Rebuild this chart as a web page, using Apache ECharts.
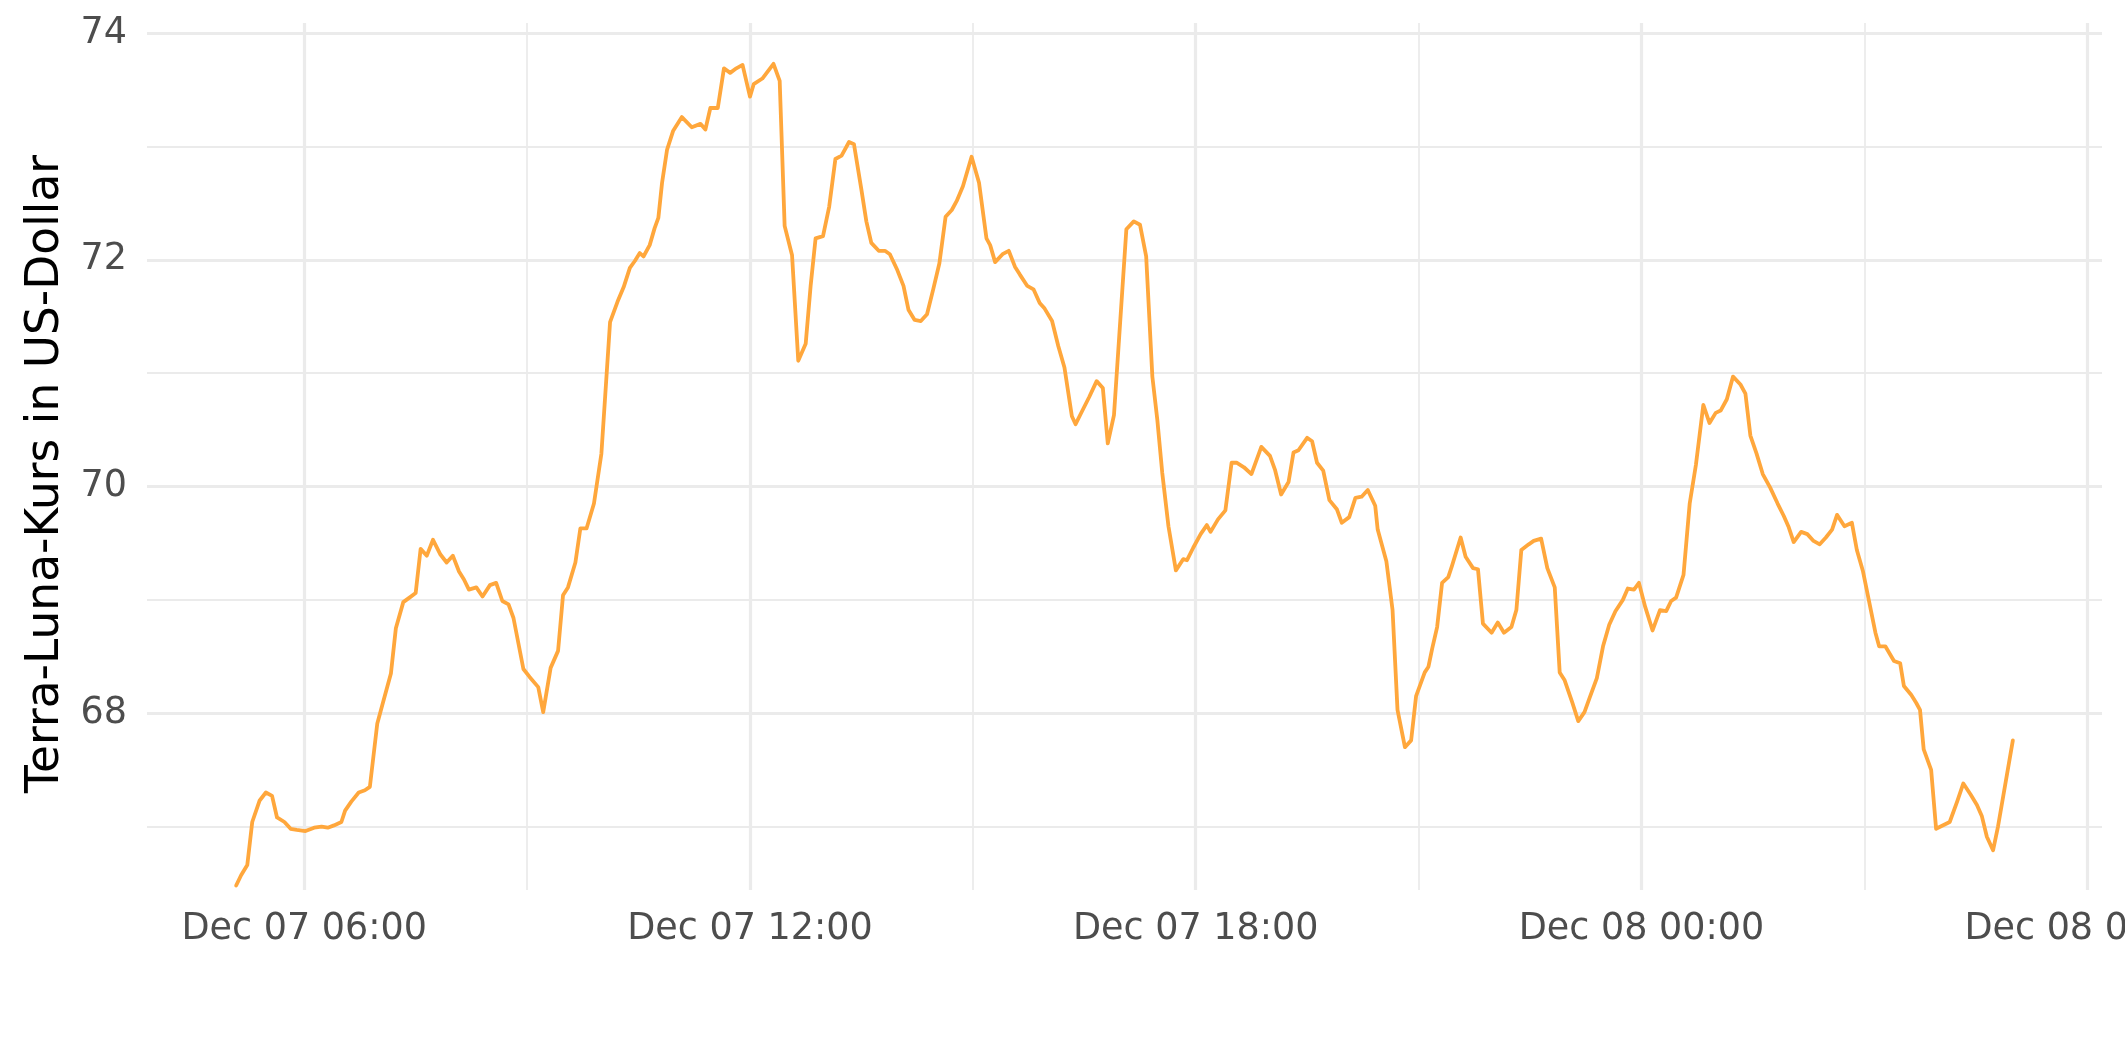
<!DOCTYPE html>
<html><head><meta charset="utf-8">
<script src="https://cdn.jsdelivr.net/npm/echarts@6/dist/echarts.min.js"></script>
<style>html,body{margin:0;padding:0;background:#fff}#c{width:2125px;height:1062px}</style>
</head><body><div id="c"></div>
<script>
const times = [
"2021-12-07 05:05","2021-12-07 05:09","2021-12-07 05:14","2021-12-07 05:18","2021-12-07 05:24","2021-12-07 05:29","2021-12-07 05:34","2021-12-07 05:38","2021-12-07 05:44","2021-12-07 05:49","2021-12-07 05:54",
"2021-12-07 06:01","2021-12-07 06:08","2021-12-07 06:14","2021-12-07 06:19","2021-12-07 06:24","2021-12-07 06:30","2021-12-07 06:33","2021-12-07 06:38","2021-12-07 06:44","2021-12-07 06:49","2021-12-07 06:53","2021-12-07 06:59",
"2021-12-07 07:03","2021-12-07 07:10","2021-12-07 07:14","2021-12-07 07:20","2021-12-07 07:25","2021-12-07 07:30","2021-12-07 07:34","2021-12-07 07:39","2021-12-07 07:44","2021-12-07 07:50","2021-12-07 07:55",
"2021-12-07 08:00","2021-12-07 08:05","2021-12-07 08:09","2021-12-07 08:13","2021-12-07 08:19","2021-12-07 08:24","2021-12-07 08:30","2021-12-07 08:35","2021-12-07 08:40","2021-12-07 08:45","2021-12-07 08:49","2021-12-07 08:57",
"2021-12-07 09:02","2021-12-07 09:09","2021-12-07 09:13","2021-12-07 09:19","2021-12-07 09:25","2021-12-07 09:29","2021-12-07 09:33","2021-12-07 09:39","2021-12-07 09:43","2021-12-07 09:48","2021-12-07 09:54",
"2021-12-07 10:00","2021-12-07 10:07","2021-12-07 10:13","2021-12-07 10:18","2021-12-07 10:23","2021-12-07 10:27","2021-12-07 10:31","2021-12-07 10:34","2021-12-07 10:39","2021-12-07 10:43","2021-12-07 10:46","2021-12-07 10:49","2021-12-07 10:53","2021-12-07 10:58",
"2021-12-07 11:05","2021-12-07 11:13","2021-12-07 11:20","2021-12-07 11:24","2021-12-07 11:28","2021-12-07 11:34","2021-12-07 11:39","2021-12-07 11:44","2021-12-07 11:49","2021-12-07 11:54",
"2021-12-07 12:00","2021-12-07 12:03","2021-12-07 12:10","2021-12-07 12:19","2021-12-07 12:24","2021-12-07 12:28","2021-12-07 12:34","2021-12-07 12:39","2021-12-07 12:45","2021-12-07 12:49","2021-12-07 12:53","2021-12-07 12:59",
"2021-12-07 13:04","2021-12-07 13:09","2021-12-07 13:14","2021-12-07 13:20","2021-12-07 13:24","2021-12-07 13:30","2021-12-07 13:34","2021-12-07 13:38","2021-12-07 13:44","2021-12-07 13:49","2021-12-07 13:53","2021-12-07 13:59",
"2021-12-07 14:04","2021-12-07 14:08","2021-12-07 14:13","2021-12-07 14:18","2021-12-07 14:23","2021-12-07 14:28","2021-12-07 14:33","2021-12-07 14:38","2021-12-07 14:43","2021-12-07 14:47","2021-12-07 14:52","2021-12-07 14:59",
"2021-12-07 15:05","2021-12-07 15:11","2021-12-07 15:14","2021-12-07 15:18","2021-12-07 15:24","2021-12-07 15:29","2021-12-07 15:34","2021-12-07 15:38","2021-12-07 15:44","2021-12-07 15:49","2021-12-07 15:54","2021-12-07 15:58",
"2021-12-07 16:04","2021-12-07 16:09","2021-12-07 16:14","2021-12-07 16:20","2021-12-07 16:23","2021-12-07 16:28","2021-12-07 16:34","2021-12-07 16:40","2021-12-07 16:45","2021-12-07 16:49","2021-12-07 16:54",
"2021-12-07 17:04","2021-12-07 17:10","2021-12-07 17:15","2021-12-07 17:20","2021-12-07 17:25","2021-12-07 17:29","2021-12-07 17:33","2021-12-07 17:38","2021-12-07 17:44","2021-12-07 17:50","2021-12-07 17:53","2021-12-07 17:58",
"2021-12-07 18:04","2021-12-07 18:09","2021-12-07 18:12","2021-12-07 18:18","2021-12-07 18:24","2021-12-07 18:29","2021-12-07 18:33","2021-12-07 18:39","2021-12-07 18:45","2021-12-07 18:53",
"2021-12-07 19:00","2021-12-07 19:04","2021-12-07 19:09","2021-12-07 19:15","2021-12-07 19:19","2021-12-07 19:23","2021-12-07 19:30","2021-12-07 19:34","2021-12-07 19:38","2021-12-07 19:43","2021-12-07 19:48","2021-12-07 19:54","2021-12-07 19:58",
"2021-12-07 20:04","2021-12-07 20:09","2021-12-07 20:14","2021-12-07 20:19","2021-12-07 20:25","2021-12-07 20:27","2021-12-07 20:34","2021-12-07 20:39","2021-12-07 20:43","2021-12-07 20:49","2021-12-07 20:54","2021-12-07 20:58",
"2021-12-07 21:05","2021-12-07 21:08","2021-12-07 21:11","2021-12-07 21:15","2021-12-07 21:19","2021-12-07 21:24","2021-12-07 21:27","2021-12-07 21:34","2021-12-07 21:38","2021-12-07 21:44","2021-12-07 21:48","2021-12-07 21:52","2021-12-07 21:59",
"2021-12-07 22:04","2021-12-07 22:09","2021-12-07 22:15","2021-12-07 22:19","2021-12-07 22:23","2021-12-07 22:29","2021-12-07 22:33","2021-12-07 22:39","2021-12-07 22:44","2021-12-07 22:50","2021-12-07 22:54","2021-12-07 22:58",
"2021-12-07 23:04","2021-12-07 23:09","2021-12-07 23:14","2021-12-07 23:18","2021-12-07 23:24","2021-12-07 23:29","2021-12-07 23:34","2021-12-07 23:39","2021-12-07 23:45","2021-12-07 23:49","2021-12-07 23:54","2021-12-07 23:58",
"2021-12-08 00:03","2021-12-08 00:09","2021-12-08 00:15","2021-12-08 00:20","2021-12-08 00:24","2021-12-08 00:28","2021-12-08 00:34","2021-12-08 00:39","2021-12-08 00:44","2021-12-08 00:50","2021-12-08 00:55",
"2021-12-08 01:00","2021-12-08 01:04","2021-12-08 01:09","2021-12-08 01:14","2021-12-08 01:20","2021-12-08 01:24","2021-12-08 01:28","2021-12-08 01:33","2021-12-08 01:38","2021-12-08 01:44","2021-12-08 01:50","2021-12-08 01:55","2021-12-08 01:59",
"2021-12-08 02:03","2021-12-08 02:09","2021-12-08 02:14","2021-12-08 02:19","2021-12-08 02:24","2021-12-08 02:29","2021-12-08 02:34","2021-12-08 02:38","2021-12-08 02:44","2021-12-08 02:50","2021-12-08 02:54","2021-12-08 02:59",
"2021-12-08 03:09","2021-12-08 03:12","2021-12-08 03:17","2021-12-08 03:24","2021-12-08 03:29","2021-12-08 03:32","2021-12-08 03:38","2021-12-08 03:42","2021-12-08 03:45","2021-12-08 03:48","2021-12-08 03:54","2021-12-08 03:58",
"2021-12-08 04:09","2021-12-08 04:15","2021-12-08 04:20","2021-12-08 04:26","2021-12-08 04:31","2021-12-08 04:35","2021-12-08 04:39","2021-12-08 04:44","2021-12-08 04:48","2021-12-08 05:00"
];
const prices = [
66.48,66.57,66.66,67.04,67.23,67.30,67.27,67.08,67.04,66.98,66.97,
66.96,66.99,67.00,66.99,67.01,67.04,67.14,67.22,67.30,67.32,67.35,67.91,
68.07,68.35,68.75,68.98,69.02,69.06,69.45,69.39,69.53,69.40,69.33,
69.39,69.25,69.18,69.09,69.11,69.03,69.13,69.15,68.99,68.96,68.84,68.39,
68.32,68.23,68.01,68.40,68.55,69.04,69.11,69.33,69.63,69.63,69.85,
70.29,71.45,71.63,71.76,71.93,71.99,72.06,72.03,72.13,72.28,72.37,72.68,72.97,73.14,
73.26,73.17,73.20,73.15,73.34,73.34,73.69,73.65,73.69,73.72,
73.44,73.55,73.60,73.73,73.58,72.30,72.04,71.11,71.26,71.77,72.19,72.21,
72.47,72.89,72.92,73.04,73.02,72.62,72.34,72.15,72.08,72.08,72.05,71.91,
71.77,71.56,71.47,71.46,71.52,71.74,71.97,72.38,72.44,72.52,72.65,72.91,
72.68,72.19,72.13,71.98,72.05,72.08,71.94,71.87,71.77,71.74,71.62,71.57,
71.46,71.24,71.05,70.62,70.55,70.66,70.79,70.93,70.87,70.38,70.63,
72.27,72.34,72.31,72.03,70.97,70.59,70.12,69.65,69.26,69.36,69.35,69.46,
69.58,69.66,69.60,69.71,69.79,70.21,70.21,70.17,70.11,70.35,
70.27,70.15,69.93,70.04,70.30,70.32,70.43,70.40,70.21,70.14,69.88,69.80,69.68,
69.73,69.90,69.91,69.97,69.83,69.62,69.34,68.91,68.03,67.70,67.76,68.15,
68.36,68.41,68.57,68.76,69.15,69.20,69.30,69.55,69.38,69.28,69.27,68.79,68.71,
68.80,68.71,68.76,68.91,69.44,69.49,69.52,69.54,69.28,69.11,68.36,68.29,
68.10,67.93,68.01,68.13,68.31,68.59,68.78,68.90,69.00,69.10,69.09,69.15,
68.94,68.73,68.91,68.90,68.99,69.02,69.22,69.85,70.19,70.72,70.56,
70.65,70.67,70.77,70.97,70.90,70.82,70.45,70.29,70.11,69.99,69.85,69.74,69.64,
69.51,69.60,69.58,69.52,69.49,69.55,69.62,69.75,69.65,69.68,69.44,69.25,
68.71,68.59,68.59,68.46,68.44,68.24,68.16,68.09,68.03,67.68,67.50,66.98,
67.04,67.22,67.38,67.28,67.19,67.09,66.91,66.79,67.00,67.76
];
const yMajorTicks = [68, 70, 72, 74];
const yMinorTicks = [67, 69, 71, 73];
const xMajorTicks = ["2021-12-07 06:00","2021-12-07 12:00","2021-12-07 18:00","2021-12-08 00:00","2021-12-08 06:00"];
const xMinorTicks = ["2021-12-07 09:00","2021-12-07 15:00","2021-12-07 21:00","2021-12-08 03:00"];
const xRange = ["2021-12-07 03:53","2021-12-08 06:12"];
const yRange = [66.44, 74.09];
const yTitle = "Terra-Luna-Kurs in US-Dollar";
const monthNames = ["Jan","Feb","Mar","Apr","May","Jun","Jul","Aug","Sep","Oct","Nov","Dec"];

const ts = s => new Date(s.replace(' ', 'T')).getTime();
const pad = n => (n < 10 ? '0' : '') + n;
function fmtTime(v) {
  const d = new Date(v);
  return monthNames[d.getMonth()] + ' ' + pad(d.getDate()) + ' ' + pad(d.getHours()) + ':' + pad(d.getMinutes());
}
const FONT = 'DejaVu Sans';
const GRID = '#EBEBEB';

const chart = echarts.init(document.getElementById('c'), null, {renderer: 'canvas'});
chart.setOption({
  animation: false,
  backgroundColor: '#ffffff',
  grid: {left: 147, right: 23, top: 23, bottom: 172, containLabel: false, outerBoundsMode: 'none'},
  xAxis: [
    {
      type: 'value', min: ts(xRange[0]), max: ts(xRange[1]),
      axisLine: {show: false}, axisTick: {show: false, customValues: xMajorTicks.map(ts)},
      axisLabel: {customValues: xMajorTicks.map(ts), formatter: fmtTime, color: '#4D4D4D', fontSize: 36.5, fontFamily: FONT, margin: 21, hideOverlap: false},
      splitLine: {show: true, lineStyle: {color: GRID, width: 3.2}}
    },
    {
      type: 'value', position: 'top', min: ts(xRange[0]), max: ts(xRange[1]),
      axisLine: {show: false}, axisTick: {show: false, customValues: xMinorTicks.map(ts)},
      axisLabel: {show: false, customValues: xMinorTicks.map(ts)},
      splitLine: {show: true, lineStyle: {color: GRID, width: 1.8}}
    }
  ],
  yAxis: [
    {
      type: 'value', min: yRange[0], max: yRange[1],
      name: yTitle, nameLocation: 'middle', nameGap: 78,
      nameTextStyle: {color: '#000000', fontSize: 45.5, fontFamily: FONT, padding: [0, 35, 0, 0]},
      axisLine: {show: false}, axisTick: {show: false, customValues: yMajorTicks},
      axisLabel: {customValues: yMajorTicks, color: '#4D4D4D', fontSize: 36.5, fontFamily: FONT, margin: 20},
      splitLine: {show: true, lineStyle: {color: GRID, width: 3.2}}
    },
    {
      type: 'value', position: 'right', min: yRange[0], max: yRange[1],
      axisLine: {show: false}, axisTick: {show: false, customValues: yMinorTicks},
      axisLabel: {show: false, customValues: yMinorTicks},
      splitLine: {show: true, lineStyle: {color: GRID, width: 1.8}}
    }
  ],
  series: [{
    type: 'line', xAxisIndex: 0, yAxisIndex: 0,
    data: times.map((t, i) => [ts(t), prices[i]]),
    showSymbol: false, smooth: false, z: 5,
    lineStyle: {color: '#FFA73C', width: 3.8, join: 'round', cap: 'round'}
  }]
});
</script>
</body></html>
